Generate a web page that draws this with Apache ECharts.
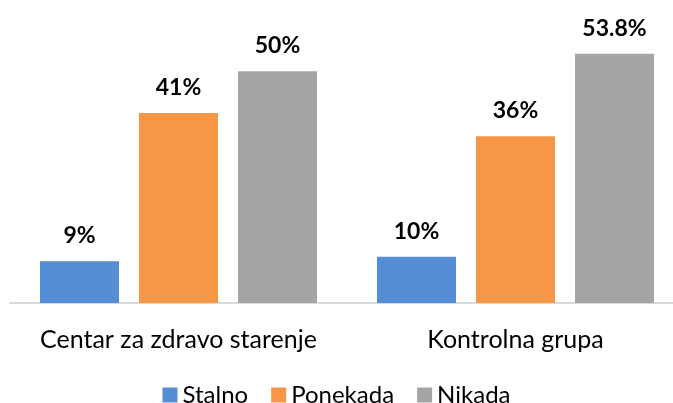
<!DOCTYPE html>
<html>
<head>
<meta charset="utf-8">
<script src="https://cdn.jsdelivr.net/npm/echarts@6/dist/echarts.min.js"></script>
<style>
  html, body { margin: 0; padding: 0; background: #fff; }
  #chart { width: 673px; height: 403px; }
</style>
</head>
<body>
<div id="chart"></div>
<script>
const categories = ['Centar za zdravo starenje', 'Kontrolna grupa'];
const stalno = [9, 10];
const ponekada = [41, 36];
const nikada = [50, 53.8];
const labelsStalno = ['9%', '10%'];
const labelsPonekada = ['41%', '36%'];
const labelsNikada = ['50%', '53.8%'];

const font = 'Lato, "Noto Sans", sans-serif';

function mkSeries(name, data, labels, color) {
  return {
    name: name,
    type: 'bar',
    data: data,
    barGap: '25.3%',
    barCategoryGap: '17.8%',
    itemStyle: { color: color },
    label: {
      show: true,
      position: 'top',
      distance: 14,
      formatter: p => labels[p.dataIndex],
      fontFamily: font,
      fontWeight: 'bold',
      fontSize: 23,
      color: '#000'
    }
  };
}

const chart = echarts.init(document.getElementById('chart'));
chart.setOption({
  animation: false,
  grid: { left: 10, width: 674, top: 25, bottom: 100, outerBoundsMode: 'none' },
  legend: {
    top: 378,
    left: 'center',
    itemWidth: 15,
    itemHeight: 15,
    itemGap: 23,
    icon: 'rect',
    textStyle: { fontFamily: font, fontSize: 24, color: '#000' }
  },
  xAxis: {
    type: 'category',
    data: categories,
    axisLine: { lineStyle: { color: '#d9d9d9', width: 2 } },
    axisTick: { show: false },
    axisLabel: { interval: 0, fontFamily: font, fontSize: 25, color: '#000', margin: 24 }
  },
  yAxis: {
    type: 'value',
    min: 0,
    max: 60,
    show: false
  },
  series: [
    mkSeries('Stalno', stalno, labelsStalno, '#558ed5'),
    mkSeries('Ponekada', ponekada, labelsPonekada, '#f79646'),
    mkSeries('Nikada', nikada, labelsNikada, '#a5a5a5')
  ]
});
</script>
</body>
</html>
